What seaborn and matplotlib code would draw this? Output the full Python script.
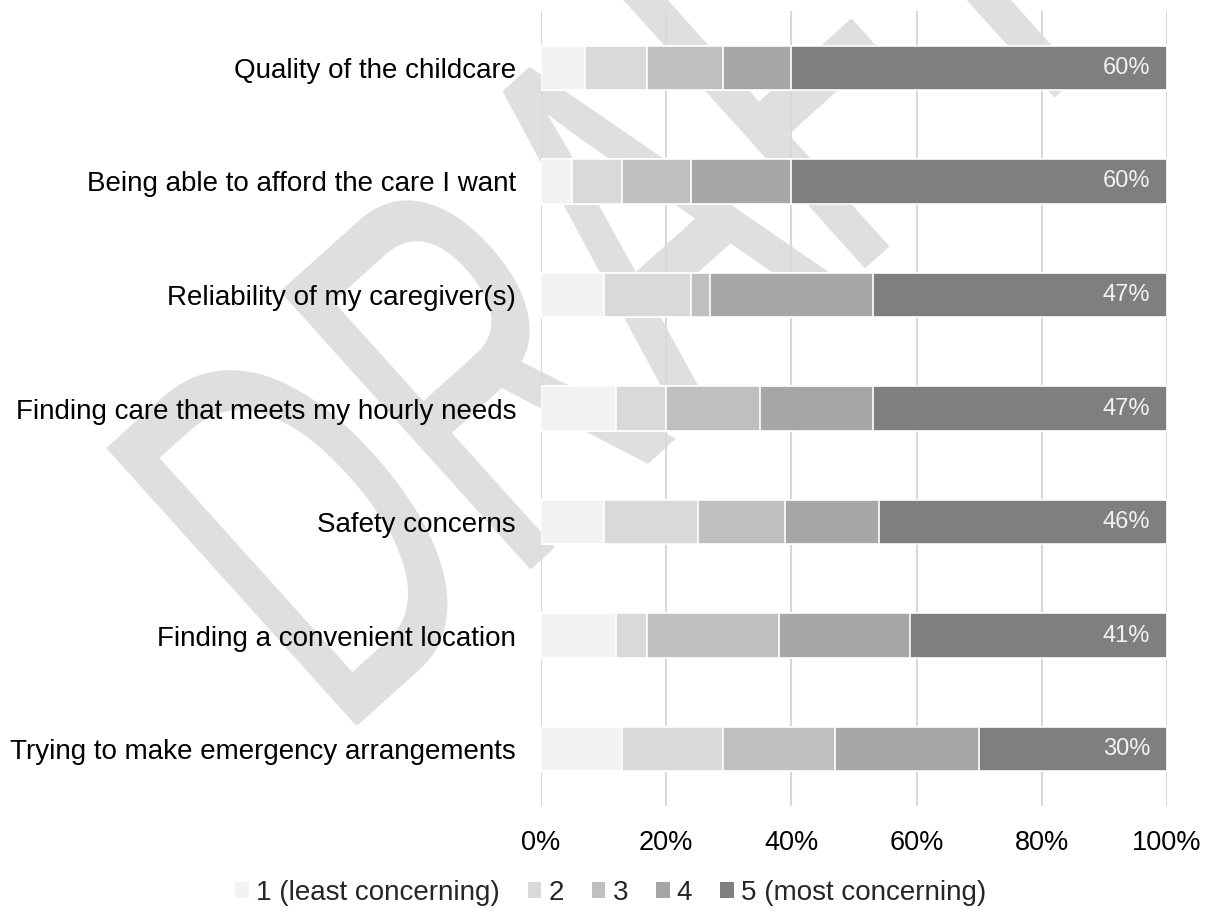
import numpy as np
import matplotlib
matplotlib.use("Agg")
import matplotlib.pyplot as plt
import seaborn as sns
from matplotlib.textpath import TextPath
from matplotlib.patches import PathPatch, Patch
from matplotlib.font_manager import FontProperties
from matplotlib.transforms import Affine2D, offset_copy

# Survey items (top to bottom)
categories = [
    "Quality of the childcare",
    "Being able to afford the care I want",
    "Reliability of my caregiver(s)",
    "Finding care that meets my hourly needs",
    "Safety concerns",
    "Finding a convenient location",
    "Trying to make emergency arrangements",
]

# Share of respondents (%) at each concern level
level_1 = [7, 5, 10, 12, 10, 12, 13]
level_2 = [10, 8, 14, 8, 15, 5, 16]
level_3 = [12, 11, 3, 15, 14, 21, 18]
level_4 = [11, 16, 26, 18, 15, 21, 23]
level_5 = [60, 60, 47, 47, 46, 41, 30]

level_labels = ["1 (least concerning)", "2", "3", "4", "5 (most concerning)"]
level_colors = ["#f2f2f2", "#d9d9d9", "#bfbfbf", "#a6a6a6", "#7f7f7f"]
x_ticks = [0, 20, 40, 60, 80, 100]
x_tick_labels = ["0%", "20%", "40%", "60%", "80%", "100%"]

sns.set_style("white")
plt.rcParams["font.family"] = ["Liberation Sans", "DejaVu Sans"]

W, H, DPI = 1209, 909, 100
fig = plt.figure(figsize=(W / DPI, H / DPI), dpi=DPI, facecolor="white")
ax = fig.add_axes([541 / W, 103 / H, 626 / W, 795 / H])
ax.set_facecolor("none")

# Background "DRAFT" stamp (condensed, rotated)
wm_path = TextPath((0, 0), "DRAFT", size=540, prop=FontProperties(family="Liberation Sans"))
wm_tr = (Affine2D().scale(0.60, 1.0).rotate_deg(42).translate(337, 167).scale(1 / DPI)
         + fig.dpi_scale_trans)
wm = PathPatch(wm_path, facecolor="#dfdfdf", edgecolor="#dfdfdf", lw=2,
               joinstyle="round", transform=wm_tr, zorder=-5)
fig.add_artist(wm)

# Stacked bars: draw cumulative totals from the longest down
levels = np.array([level_1, level_2, level_3, level_4, level_5], dtype=float)
cum = np.cumsum(levels, axis=0)
for i in reversed(range(len(levels))):
    sns.barplot(x=cum[i], y=categories, orient="h", color=level_colors[i],
                saturation=1, width=0.39, edgecolor="white", linewidth=1.2, ax=ax)

# Value labels for the top concern level
lbl_tr = offset_copy(ax.transData, fig=fig, x=-17, y=0, units="dots")
for yi, (tot, v) in enumerate(zip(cum[-1], level_5)):
    ax.text(tot, yi, f"{v}%", transform=lbl_tr, ha="right", va="center",
            color="#f2f2f2", fontsize=17)

ax.set_xlim(0, 100)
ax.set_xticks(x_ticks)
ax.set_xticklabels(x_tick_labels)
ax.xaxis.grid(True, color="#d9d9d9", lw=1.5)
ax.yaxis.grid(False)
ax.set_axisbelow(True)
for s in ax.spines.values():
    s.set_visible(False)
ax.tick_params(axis="x", length=0, pad=17, labelsize=19.5, labelcolor="black")
ax.tick_params(axis="y", length=0, pad=18, labelsize=20, labelcolor="black")
ax.set_xlabel("")
ax.set_ylabel("")

handles = [Patch(facecolor=c, edgecolor="none", label=l)
           for c, l in zip(level_colors, level_labels)]
fig.legend(handles=handles, loc="center", bbox_to_anchor=(0.505, 0.018), ncol=5,
           frameon=False, fontsize=20, handlelength=0.5, handleheight=0.5,
           handletextpad=0.25, columnspacing=1.0)

fig.savefig("out.png", dpi=DPI, facecolor="white")
